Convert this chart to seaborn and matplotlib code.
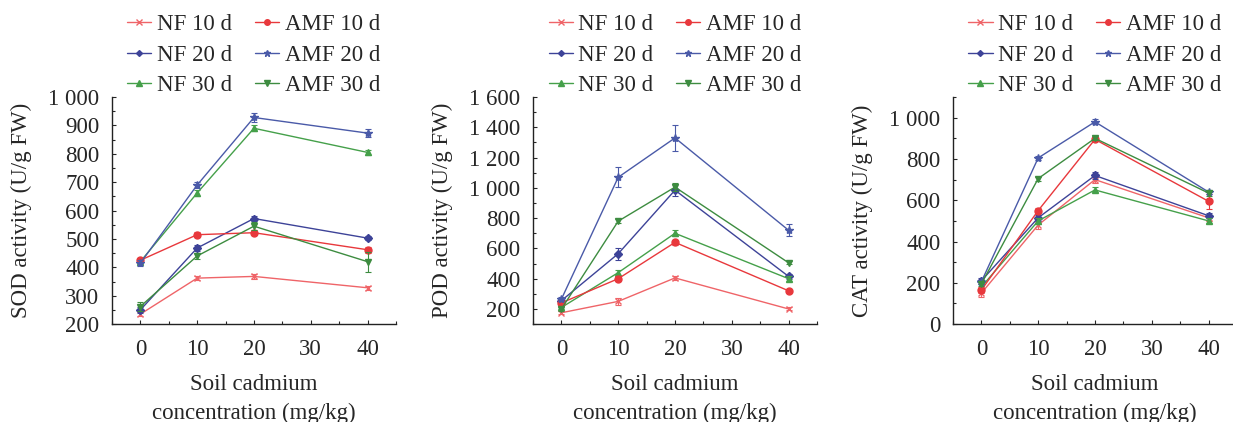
import numpy as np
import pandas as pd
import matplotlib
matplotlib.use("Agg")
import matplotlib.pyplot as plt
import matplotlib.ticker as mticker
from matplotlib.lines import Line2D
import seaborn as sns

sns.set_style("ticks")
plt.rcParams['font.family'] = ['Liberation Serif', 'DejaVu Serif']
plt.rcParams['font.size'] = 16.5

# Data
cd = [0, 10, 20, 40]
groups = ["NF 10 d", "NF 20 d", "NF 30 d", "AMF 10 d", "AMF 20 d", "AMF 30 d"]

sod = {
    "NF 10 d": [235, 362, 368, 328],
    "NF 20 d": [250, 468, 572, 503],
    "NF 30 d": [420, 662, 890, 805],
    "AMF 10 d": [425, 515, 522, 462],
    "AMF 20 d": [415, 690, 928, 873],
    "AMF 30 d": [262, 440, 545, 420],
}
sod_err = {
    "NF 10 d": [8, 8, 8, 7],
    "NF 20 d": [10, 12, 10, 8],
    "NF 30 d": [8, 10, 10, 8],
    "AMF 10 d": [8, 8, 8, 10],
    "AMF 20 d": [10, 10, 15, 15],
    "AMF 30 d": [15, 12, 15, 35],
}

pod = {
    "NF 10 d": [175, 250, 405, 200],
    "NF 20 d": [255, 565, 985, 415],
    "NF 30 d": [210, 440, 700, 400],
    "AMF 10 d": [240, 400, 640, 320],
    "AMF 20 d": [265, 1070, 1330, 720],
    "AMF 30 d": [200, 780, 1005, 505],
}
pod_err = {
    "NF 10 d": [10, 25, 15, 10],
    "NF 20 d": [15, 40, 40, 15],
    "NF 30 d": [15, 15, 20, 15],
    "AMF 10 d": [15, 15, 15, 10],
    "AMF 20 d": [15, 65, 85, 40],
    "AMF 30 d": [15, 15, 25, 10],
}

cat = {
    "NF 10 d": [150, 480, 700, 515],
    "NF 20 d": [210, 515, 720, 525],
    "NF 30 d": [180, 500, 650, 500],
    "AMF 10 d": [165, 550, 895, 595],
    "AMF 20 d": [205, 805, 980, 640],
    "AMF 30 d": [195, 705, 900, 635],
}
cat_err = {
    "NF 10 d": [20, 20, 15, 15],
    "NF 20 d": [15, 15, 15, 12],
    "NF 30 d": [15, 15, 12, 12],
    "AMF 10 d": [15, 12, 10, 35],
    "AMF 20 d": [10, 10, 12, 12],
    "AMF 30 d": [12, 10, 10, 12],
}

colors = {
    "NF 10 d": "#ef6468", "AMF 10 d": "#e8383c",
    "NF 20 d": "#3d4398", "AMF 20 d": "#4a5aa8",
    "NF 30 d": "#45a04a", "AMF 30 d": "#3d8c40",
}
markers = {
    "NF 10 d": "x", "AMF 10 d": "o",
    "NF 20 d": "D", "AMF 20 d": "*",
    "NF 30 d": "^", "AMF 30 d": "v",
}
msize = {"x": 5, "o": 5, "D": 4, "*": 6, "^": 5, "v": 5}

panels = [
    (sod, sod_err, "SOD activity (U/g FW)", (200, 1000), np.arange(200, 1001, 100), 50),
    (pod, pod_err, "POD activity (U/g FW)", (100, 1600), np.arange(200, 1601, 200), 100),
    (cat, cat_err, "CAT activity (U/g FW)", (0, 1100), np.arange(0, 1001, 200), 100),
]

fig = plt.figure(figsize=(12.33, 4.22), dpi=100)
lefts = [0.0908, 0.4323, 0.7729]


def thousands(v, pos):
    return f"{int(v):,}".replace(",", " ")


for left, (vals, errs, ylabel, ylim, yticks, yminor) in zip(lefts, panels):
    ax = fig.add_axes([left, 0.232, 0.2303, 0.538])
    rows = []
    for g in groups:
        for x, y in zip(cd, vals[g]):
            rows.append({"cd": x, "value": y, "group": g})
    df = pd.DataFrame(rows)
    for g in groups:
        sub = df[df["group"] == g]
        sns.lineplot(data=sub, x="cd", y="value", color=colors[g], lw=1.0,
                     marker=markers[g], markersize=msize[markers[g]],
                     markeredgecolor=colors[g], markeredgewidth=1.0,
                     ax=ax, legend=False)
        ax.errorbar(cd, vals[g], yerr=errs[g], fmt="none", ecolor=colors[g],
                    elinewidth=0.8, capsize=2.5, capthick=0.8)
    ax.set_xlim(-5, 45)
    ax.set_ylim(*ylim)
    ax.set_xticks([0, 10, 20, 30, 40])
    ax.xaxis.set_minor_locator(mticker.MultipleLocator(5))
    ax.set_yticks(yticks)
    ax.yaxis.set_minor_locator(mticker.MultipleLocator(yminor))
    ax.yaxis.set_major_formatter(mticker.FuncFormatter(thousands))
    ax.tick_params(direction="in", length=3, width=0.8, which="both")
    ax.tick_params(which="minor", length=2)
    ax.tick_params(axis="y", which="major", pad=9)
    ax.tick_params(axis="x", which="major", pad=11)
    sns.despine(ax=ax)
    for s in ["left", "bottom"]:
        ax.spines[s].set_linewidth(1.0)
        ax.spines[s].set_color("#222222")
    ax.set_xlabel("Soil cadmium\nconcentration (mg/kg)", linespacing=1.45, labelpad=10)
    ax.set_ylabel(ylabel, labelpad=12)

    handles = [Line2D([], [], color=colors[g], marker=markers[g], lw=1.0,
                      markersize=msize[markers[g]] - 1, label=g) for g in groups]
    ax.legend(handles=handles, ncol=2, loc="lower center",
              bbox_to_anchor=(0.5, 1.0), frameon=False, handlelength=1.05,
              handletextpad=0.25, columnspacing=1.0, labelspacing=0.4,
              borderpad=0.05, borderaxespad=0.0, fontsize=16.5)

fig.savefig("out.png", dpi=100, facecolor="white")
